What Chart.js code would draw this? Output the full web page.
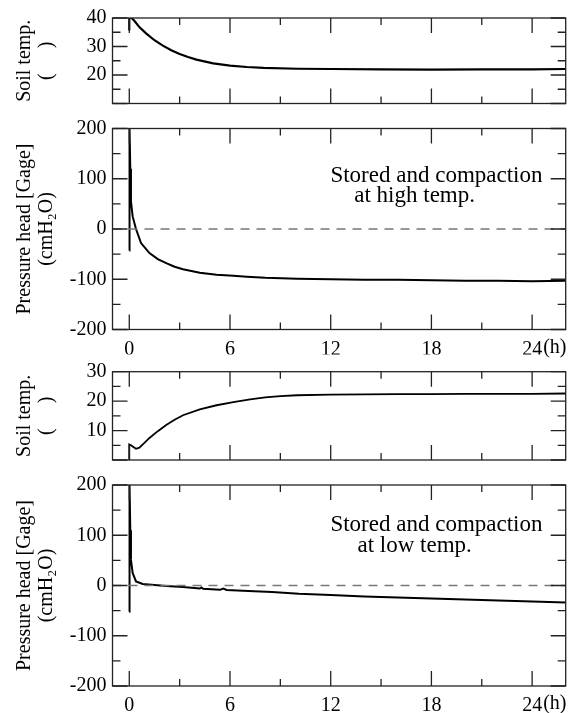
<!DOCTYPE html>
<html>
<head>
<meta charset="utf-8">
<script src="https://cdn.jsdelivr.net/npm/chart.js@4.4.1/dist/chart.umd.min.js"></script>
<style>
  body { margin: 0; background: #fff; font-family: 'Liberation Serif', serif; }
  #wrap { position: relative; width: 577px; height: 713px; }
  #wrap canvas { position: absolute; left: 0; top: 0; }
</style>
</head>
<body>
<div id="wrap">
  <canvas id="chartA" width="577" height="713"></canvas>
  <canvas id="chartB" width="577" height="713"></canvas>
  <canvas id="chartC" width="577" height="713"></canvas>
  <canvas id="chartD" width="577" height="713"></canvas>
</div>
<script>
// time axis (h)
const xMajor = [0, 6, 12, 18, 24];
const xMinor = [3, 9, 15, 21];

// high temp: soil temperature
const hiSoilT = [0, 0, 0.1, 0.3, 0.6, 1.0, 1.5, 2.0, 2.5, 3.0, 3.5, 4.0, 5.0, 6.0, 7.0, 8.0, 10, 12, 15, 18, 21, 24, 26];
const hiSoilV = [35.6, 42, 40.2, 39.0, 36.8, 34.6, 32.2, 30.3, 28.7, 27.4, 26.3, 25.4, 24.1, 23.3, 22.8, 22.5, 22.2, 22.1, 22.0, 21.9, 22.0, 22.0, 22.1];

// high temp: pressure head
const hiPresT = [0, 0, 0.03, 0.06, 0.1, 0.2, 0.4, 0.7, 1.2, 1.7, 2.2, 2.7, 3.2, 4.2, 5.2, 6.2, 7.0, 8.1, 10, 12, 14, 16, 18, 20, 22, 24, 26];
const hiPresV = [-43, 230, 200, 120, 55, 25, 0, -28, -48, -60, -68, -75, -80, -87, -91, -93, -95, -97, -99, -100, -101, -101, -102, -103, -103, -104, -103];

// low temp: soil temperature
const loSoilT = [0, 0, 0.1, 0.2, 0.4, 0.6, 0.9, 1.2, 1.7, 2.2, 2.7, 3.2, 4.2, 5.2, 6.2, 7.2, 8.1, 9.0, 10, 12, 14, 16, 18, 20, 22, 24, 26];
const loSoilV = [-1, 5.3, 5.0, 4.6, 3.8, 4.2, 5.8, 7.5, 9.8, 11.9, 13.7, 15.2, 17.2, 18.6, 19.7, 20.6, 21.3, 21.7, 22.0, 22.2, 22.3, 22.4, 22.4, 22.5, 22.5, 22.5, 22.6];

// low temp: pressure head
const loPresT = [0, 0, 0.03, 0.06, 0.1, 0.2, 0.4, 0.8, 1.5, 2.2, 3.2, 4.2, 4.3, 4.4, 5.4, 5.6, 5.8, 7.1, 8.5, 10.1, 12, 14, 16, 18, 20, 22, 24, 26];
const loPresV = [-52, 230, 200, 110, 51, 25, 8, 3, 1, -1, -3, -6, -4, -6.5, -8.6, -6, -9, -11, -13, -16.6, -19, -22, -24, -26, -28, -30, -32, -34];

// y ticks
const soilHiTicks = [10, 20, 30, 40];
const soilLoTicks = [0, 10, 20, 30];
const presTicks = [-200, -100, 0, 100, 200];

const serif = "'Liberation Serif', 'Times New Roman', 'DejaVu Serif', serif";

function pts(xs, ys) {
    return xs.map((v, i) => ({ x: v, y: ys[i] }));
}

// frame with inward ticks on all four sides, plus notes
const frameTicks = {
    id: 'frameTicks',
    afterDatasetsDraw(chart, args, opts) {
        const { ctx, chartArea: a, scales: { x, y } } = chart;
        ctx.save();
        ctx.strokeStyle = '#222';
        ctx.lineWidth = 1.3;
        ctx.strokeRect(a.left, a.top, a.width, a.height);
        ctx.beginPath();
        const xt = (v, len) => {
            const px = x.getPixelForValue(v);
            ctx.moveTo(px, a.top); ctx.lineTo(px, a.top + len);
            ctx.moveTo(px, a.bottom); ctx.lineTo(px, a.bottom - len);
        };
        const yt = (v, len) => {
            const py = y.getPixelForValue(v);
            ctx.moveTo(a.left, py); ctx.lineTo(a.left + len, py);
            ctx.moveTo(a.right, py); ctx.lineTo(a.right - len, py);
        };
        xMajor.forEach(v => xt(v, 15));
        xMinor.forEach(v => xt(v, 7));
        const yv = opts.yTicks;
        yv.forEach((v, i) => {
            yt(v, 15);
            if (i > 0) yt((v + yv[i - 1]) / 2, 8);
        });
        ctx.stroke();

        ctx.fillStyle = '#000';
        ctx.font = '23px ' + serif;
        ctx.textAlign = 'center';
        ctx.textBaseline = 'middle';
        (opts.notes || []).forEach(n => {
            ctx.fillText(n.text, x.getPixelForValue(n.x), y.getPixelForValue(n.y));
        });
        if (opts.unit) {
            ctx.font = '20px ' + serif;
            ctx.textAlign = 'left';
            ctx.textBaseline = 'top';
            ctx.fillText('(h)', x.getPixelForValue(24) + 11, a.bottom + 8);
        }
        ctx.restore();
    }
};

function makePanel(id, cfg) {
    const datasets = [{
        data: pts(cfg.xs, cfg.ys),
        borderColor: '#000',
        borderWidth: cfg.lw || 2,
        pointRadius: 0,
        tension: 0
    }];
    if (cfg.zeroLine) {
        datasets.unshift({
            data: pts([-1, 26], [0, 0]),
            borderColor: '#777',
            borderWidth: 1.5,
            borderDash: [9, 7],
            pointRadius: 0
        });
    }
    return new Chart(document.getElementById(id), {
        type: 'line',
        data: { datasets: datasets },
        plugins: [frameTicks],
        options: {
            responsive: false,
            animation: false,
            layout: { padding: { top: cfg.top, bottom: cfg.bottom, left: 0, right: 11.3 } },
            scales: {
                x: {
                    type: 'linear',
                    min: -1,
                    max: 26,
                    display: cfg.xLabels,
                    afterBuildTicks: s => { s.ticks = xMajor.map(v => ({ value: v })); },
                    afterFit: s => { s.height = 25; },
                    grid: { display: false, drawTicks: false },
                    border: { display: false },
                    ticks: { color: '#000', padding: 8, maxRotation: 0, font: { family: serif, size: 20 } }
                },
                y: {
                    min: cfg.yTicks[0],
                    max: cfg.yTicks[cfg.yTicks.length - 1],
                    afterBuildTicks: s => { s.ticks = cfg.yTicks.map(v => ({ value: v })); },
                    afterFit: s => { s.width = 112.5; },
                    grid: { display: false, drawTicks: false },
                    border: { display: false },
                    ticks: {
                        color: '#000',
                        padding: 6,
                        font: { family: serif, size: 20 },
                        callback: v => (v === cfg.hideTick ? '' : String(v))
                    },
                    title: {
                        display: true,
                        text: cfg.title,
                        color: '#000',
                        padding: { top: 14, bottom: 0 },
                        font: { family: serif, size: 20, lineHeight: 1.1 }
                    }
                }
            },
            plugins: {
                legend: { display: false },
                tooltip: { enabled: false },
                frameTicks: { yTicks: cfg.yTicks, notes: cfg.notes, unit: cfg.xLabels }
            }
        }
    });
}

makePanel('chartA', {
    xs: hiSoilT, ys: hiSoilV, yTicks: soilHiTicks, hideTick: 10,
    top: 15, bottom: 584.5, xLabels: false, lw: 2.2,
    title: ['Soil temp.', '(     )']
});

makePanel('chartB', {
    xs: hiPresT, ys: hiPresV, yTicks: presTicks,
    top: 128.5, bottom: 358.5, xLabels: true, zeroLine: true,
    title: ['Pressure head [Gage]', '(cmH\u2082O)'],
    notes: [
        { text: 'Stored and compaction', x: 18.3, y: 105 },
        { text: 'at high temp.', x: 17.0, y: 65 }
    ]
});

makePanel('chartC', {
    xs: loSoilT, ys: loSoilV, yTicks: soilLoTicks, hideTick: 0,
    top: 371.7, bottom: 228, xLabels: false, lw: 1.8,
    title: ['Soil temp.', '(     )']
});

makePanel('chartD', {
    xs: loPresT, ys: loPresV, yTicks: presTicks,
    top: 485, bottom: 2, xLabels: true, zeroLine: true,
    title: ['Pressure head [Gage]', '(cmH\u2082O)'],
    notes: [
        { text: 'Stored and compaction', x: 18.3, y: 120 },
        { text: 'at low temp.', x: 17.0, y: 79 }
    ]
});
</script>
</body>
</html>
